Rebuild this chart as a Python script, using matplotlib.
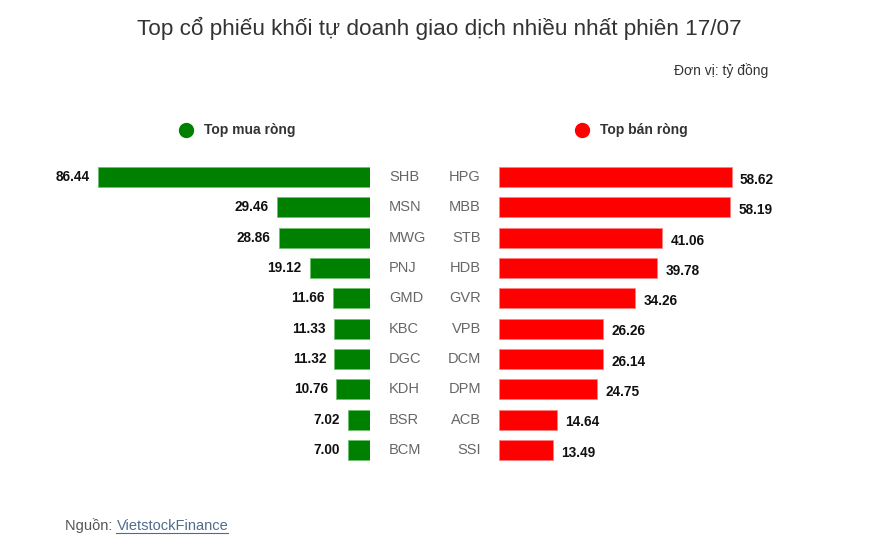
import matplotlib.pyplot as plt
import matplotlib.transforms as mtransforms

# data (tỷ đồng)
buy_tickers = ["SHB", "MSN", "MWG", "PNJ", "GMD", "KBC", "DGC", "KDH", "BSR", "BCM"]
buy_values = [86.44, 29.46, 28.86, 19.12, 11.66, 11.33, 11.32, 10.76, 7.02, 7.00]
sell_tickers = ["HPG", "MBB", "STB", "HDB", "GVR", "VPB", "DCM", "DPM", "ACB", "SSI"]
sell_values = [58.62, 58.19, 41.06, 39.78, 34.26, 26.26, 26.14, 24.75, 14.64, 13.49]

plt.rcParams['font.family'] = ['Liberation Sans', 'DejaVu Sans']

W, H = 878, 552
fig = plt.figure(figsize=(W / 100, H / 100), dpi=100)

def fx(px):
    return px / W

def fy(py):
    return 1 - py / H

ax_bottom = fy(465.2)
ax_h = 303.3 / H
ax_left = fig.add_axes([fx(50), ax_bottom, fx(320), ax_h])
ax_right = fig.add_axes([fx(499), ax_bottom, fx(321), ax_h])

rows = list(range(len(buy_tickers)))

ax_left.barh(rows, buy_values, height=0.66, color="#008000", edgecolor="#6fbf6f", linewidth=0.6)
ax_left.set_xlim(320 / 3.147, 0)
ax_right.barh(rows, sell_values, height=0.66, color="#ff0000", edgecolor="#ff8080", linewidth=0.6)
ax_right.set_xlim(0, 321 / 3.97)

for ax in (ax_left, ax_right):
    ax.set_ylim(len(rows) - 0.5, -0.5)
    ax.axis("off")

for i, v in zip(rows, buy_values):
    ax_left.annotate(f"{v:.2f}", (v, i), xytext=(-6, 0), textcoords="offset points",
                     ha="right", va="center", fontsize=9.8, fontweight="bold", color="#111111")
for i, v in zip(rows, sell_values):
    ax_right.annotate(f"{v:.2f}", (v, i), xytext=(6, -2), textcoords="offset points",
                      ha="left", va="center", fontsize=9.8, fontweight="bold", color="#111111")

# ticker names between the two halves
trans = mtransforms.blended_transform_factory(fig.transFigure, ax_left.transData)
for i, (b, s) in enumerate(zip(buy_tickers, sell_tickers)):
    ax_left.text(fx(389), i, b, transform=trans, ha="left", va="center", fontsize=10.5, color="#666666")
    ax_left.text(fx(481), i, s, transform=trans, ha="right", va="center", fontsize=10.5, color="#666666")

# title and unit
fig.text(0.5, fy(28), "Top cổ phiếu khối tự doanh giao dịch nhiều nhất phiên 17/07",
         ha="center", va="center", fontsize=16.2, color="#333333")
fig.text(fx(768), fy(71), "Đơn vị: tỷ đồng", ha="right", va="center", fontsize=10,
         color="#333333")

# legend markers
for cx, col, label in [(186, "#008000", "Top mua ròng"), (582, "#ff0000", "Top bán ròng")]:
    fig.add_artist(plt.Line2D([fx(cx)], [fy(130)], transform=fig.transFigure, marker="o",
                              markersize=10, color=col, linestyle="none"))
    fig.text(fx(cx + 18), fy(130), label, ha="left", va="center", fontsize=10,
             fontweight="bold", color="#333333")

# source
src = fig.text(fx(65), fy(526), "Nguồn: ", ha="left", va="center", fontsize=10.5, color="#555555")
fig.canvas.draw()
renderer = fig.canvas.get_renderer()
bb = src.get_window_extent(renderer=renderer)
link = fig.text(bb.x1 / W, fy(526), "VietstockFinance", ha="left", va="center", fontsize=10.5,
                color="#4f6d8f", url="https://finance.vietstock.vn")
link_bb = link.get_window_extent(renderer=renderer)
fig.add_artist(plt.Line2D([link_bb.x0 / W, link_bb.x1 / W], [fy(533), fy(533)],
                          transform=fig.transFigure, color="#4f6d8f", linewidth=0.8))

fig.savefig("out.png", dpi=100, facecolor="white")
